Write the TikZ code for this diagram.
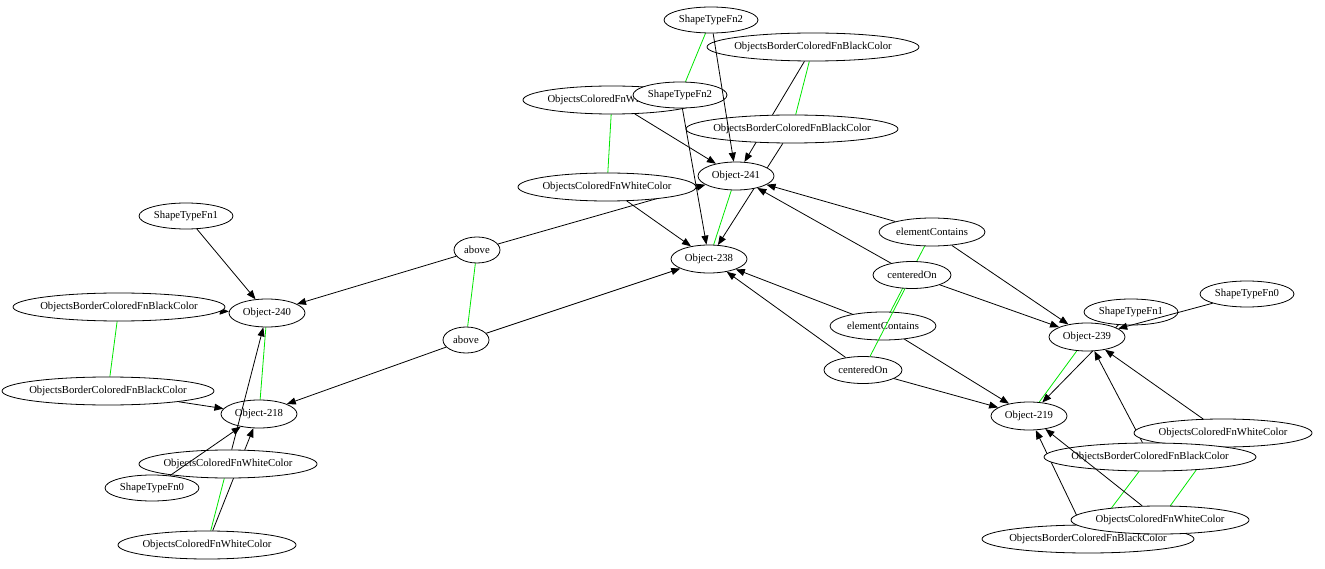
\documentclass[tikz,border=0pt]{standalone}
\usepackage{fontspec}
\setmainfont{Liberation Serif}
\usetikzlibrary{shapes.geometric,arrows.meta}
\pgfdeclarelayer{back}
\pgfdeclarelayer{front}
\pgfsetlayers{back,main,front}
\definecolor{lnk}{RGB}{0,230,0}
\tikzset{
  nd/.style={ellipse, draw=black, fill=white, line width=0.8pt, inner sep=0pt,
    font=\fontsize{10.7}{12}\selectfont},
  objn/.style={nd, minimum width=76pt, minimum height=28pt},
  stfn/.style={nd, minimum width=94pt, minimum height=26pt},
  obbn/.style={nd, minimum width=212pt, minimum height=28pt},
  ocwn/.style={nd, minimum width=178pt, minimum height=28pt},
  abn/.style={nd, minimum width=46pt, minimum height=26pt},
  ecn/.style={nd, minimum width=106pt, minimum height=28pt},
  con/.style={nd, minimum width=78pt, minimum height=27pt},
  arr/.style={draw=black, line width=0.8pt, -{Triangle[length=9pt,width=7pt]}},
  grn/.style={draw=lnk, line width=0.8pt}
}
\newcommand{\tx}[1]{\makebox[0pt][c]{#1}}
\begin{document}
\begin{tikzpicture}[x=1pt,y=-1pt]
\useasboundingbox (0,0) rectangle (1325,569);
% top cluster
\node[stfn] (stf2a) at (711,20) {\tx{ShapeTypeFn2}};
\node[obbn] (obbA) at (813,47) {\tx{ObjectsBorderColoredFnBlackColor}};
\node[ocwn] (ocwA) at (612,100) {\tx{ObjectsColoredFnWhiteColor}};
\node[stfn] (stf2b) at (680,95) {\tx{ShapeTypeFn2}};
\node[obbn] (obbB) at (792,129) {\tx{ObjectsBorderColoredFnBlackColor}};
\node[objn] (o241) at (736,176) {\tx{Object-241}};
\node[ocwn] (ocwB) at (607,187) {\tx{ObjectsColoredFnWhiteColor}};
\node[objn] (o238) at (709,259) {\tx{Object-238}};
% left cluster
\node[stfn] (stf1L) at (186,216) {\tx{ShapeTypeFn1}};
\node[obbn] (obbL1) at (119,307) {\tx{ObjectsBorderColoredFnBlackColor}};
\node[objn] (o240) at (267,313) {\tx{Object-240}};
\node[abn] (abA) at (477,250) {\tx{above}};
\node[abn] (abB) at (466,340) {\tx{above}};
\node[obbn] (obbL2) at (108,391) {\tx{ObjectsBorderColoredFnBlackColor}};
\node[objn] (o218) at (259,414) {\tx{Object-218}};
\node[stfn] (stf0L) at (152,488) {\tx{ShapeTypeFn0}};
\node[ocwn] (ocwL1) at (228,464) {\tx{ObjectsColoredFnWhiteColor}};
\node[ocwn] (ocwL2) at (207,545) {\tx{ObjectsColoredFnWhiteColor}};
% right cluster
\node[ecn] (ecA) at (932,232) {\tx{elementContains}};
\node[con] (coA) at (912,275) {\tx{centeredOn}};
\node[ecn] (ecB) at (883,326) {\tx{elementContains}};
\node[con] (coB) at (863,370) {\tx{centeredOn}};
\node[stfn] (stf0R) at (1247,294) {\tx{ShapeTypeFn0}};
\node[stfn] (stf1R) at (1131,312) {\tx{ShapeTypeFn1}};
\node[objn] (o239) at (1087,337) {\tx{Object-239}};
\node[objn] (o219) at (1029,416) {\tx{Object-219}};
\node[ocwn] (ocwR1) at (1223,433) {\tx{ObjectsColoredFnWhiteColor}};
\node[obbn] (obbR1) at (1150,457) {\tx{ObjectsBorderColoredFnBlackColor}};
\node[obbn] (obbR2) at (1088,539) {\tx{ObjectsBorderColoredFnBlackColor}};
\node[ocwn] (ocwR2) at (1160,520) {\tx{ObjectsColoredFnWhiteColor}};

\begin{pgfonlayer}{back}
% top
\draw[grn] (stf2a) -- (stf2b);
\draw[arr] (obbA) -- (o241);
\draw[grn] (obbA) -- (obbB);
\draw[arr] (ocwA) -- (o241);
\draw[grn] (ocwA) -- (ocwB);
\draw[arr] (obbB) -- (o238);
\draw[arr] (ocwB) -- (o238);
\draw[grn] (o241) -- (o238);
% middle
\draw[arr] (abA) -- (o241);
\draw[arr] (abA) -- (o240);
\draw[grn] (abA) -- (abB);
\draw[arr] (abB) -- (o238);
\draw[arr] (abB) -- (o218);
% left
\draw[arr] (stf1L) -- (o240);
\draw[arr] (obbL1) -- (o240);
\draw[grn] (obbL1) -- (obbL2);
\draw[arr] (obbL2) -- (o218);
\draw[grn] (o240) -- (o218);
\draw[arr] (ocwL2) -- (o218);
\draw[grn] (ocwL2) -- (ocwL1);
% right
\draw[arr] (ecA) -- (o241);
\draw[arr] (coA) -- (o241);
\draw[arr] (ecA) -- (o239);
\draw[arr] (coA) -- (o239);
\draw[arr] (ecB) -- (o238);
\draw[arr] (coB) -- (o238);
\draw[arr] (ecB) -- (o219);
\draw[arr] (coB) -- (o219);
\draw[grn] (ecA) -- (ecB);
\draw[arr] (stf1R) -- (o219);
\draw[grn] (o239) -- (o219);
\draw[arr] (ocwR1) -- (o239);
\draw[arr] (obbR1) -- (o239);
\draw[arr] (obbR2) -- (o219);
\draw[grn] (obbR1) -- (obbR2);
\draw[grn] (ocwR1) -- (ocwR2);
\end{pgfonlayer}

\begin{pgfonlayer}{front}
\draw[arr] (stf2a) -- (o241);
\draw[arr] (stf2b) -- (o238);
\draw[arr] (stf0L) -- (o218);
\draw[arr] (ocwL1) -- (o240);
\draw[grn] (coA) -- (coB);
\draw[arr] (ocwR2) -- (o219);
\draw[arr] (stf0R) -- (o239);
\end{pgfonlayer}
\end{tikzpicture}
\end{document}
